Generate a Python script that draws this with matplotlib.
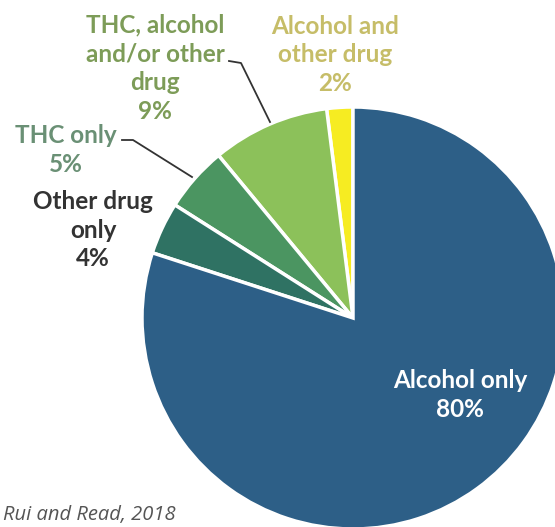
import numpy as np
import matplotlib.pyplot as plt

# slices, counter-clockwise from 12 o'clock
labels = ["Alcohol and\nother drug\n2%", "THC, alcohol\nand/or other\ndrug\n9%",
          "THC only\n5%", "Other drug\nonly\n4%", "Alcohol only\n80%"]
shares = [2, 9, 5, 4, 80]
colors = ["#f6ec22", "#8cc15a", "#4b9561", "#2f7263", "#2d5f87"]
text_colors = ["#c6bd68", "#7d9c58", "#6a9075", "#333333", "#ffffff"]

W, H = 555, 527
fig = plt.figure(figsize=(W / 100, H / 100), dpi=100)
ax = fig.add_axes([0, 0, 1, 1])

cx, cy, r = 353, H - 318, 211
ax.pie(shares, colors=colors, startangle=90, counterclock=True,
       center=(cx, cy), radius=r,
       wedgeprops=dict(edgecolor="white", linewidth=2.5))

ax.set_xlim(0, W)
ax.set_ylim(0, H)
ax.set_aspect("equal")
ax.axis("off")

font = dict(family="Lato", weight="bold", fontsize=17.5, ha="center", va="center",
            linespacing=1.3)

# label positions in pixels (x, y from top)
pos = [(335, 55), (155, 68), (66, 150), (93, 230), (460, 395)]
for lab, c, (x, y) in zip(labels, text_colors, pos):
    ax.text(x, H - y, lab, color=c, **font)

# leader lines
ax.plot([229, 241, 270], [H - 61, H - 63, H - 122], color="#333333", lw=1.3)
ax.plot([122, 133, 192], [H - 140, H - 140, H - 177], color="#333333", lw=1.3)

ax.text(3, H - 520, "Rui and Read, 2018", family="Open Sans", style="italic",
        fontsize=14.5, color="#555555", ha="left", va="baseline")

fig.savefig("out.png", dpi=100)
